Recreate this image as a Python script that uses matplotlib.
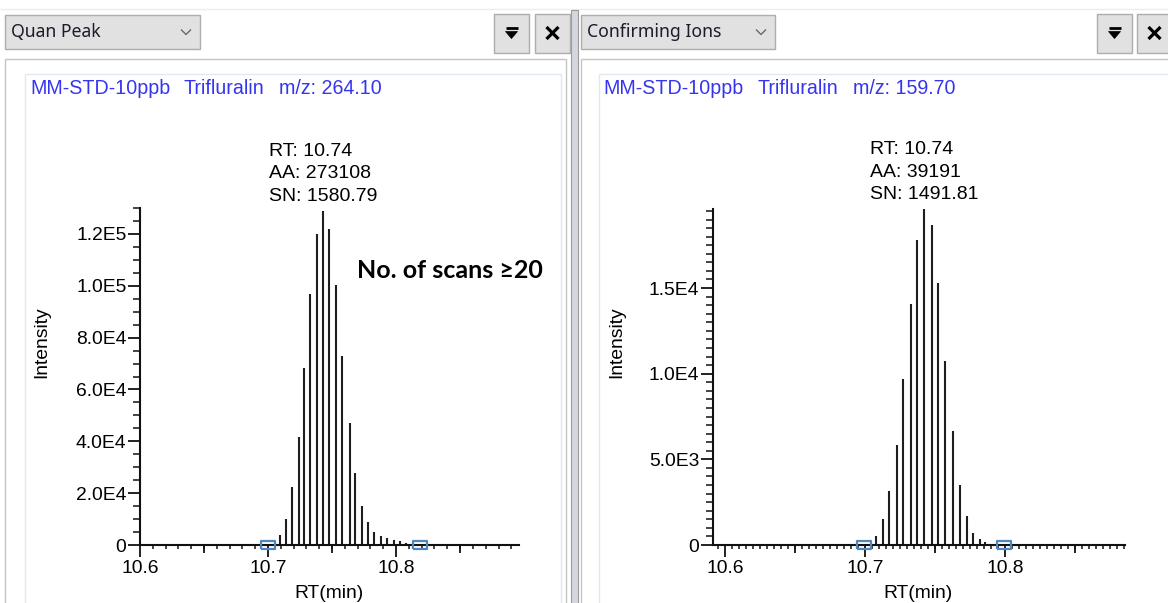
import matplotlib
matplotlib.use("Agg")
import matplotlib.pyplot as plt
from matplotlib.patches import Rectangle, Polygon
from matplotlib.lines import Line2D
from matplotlib.ticker import MultipleLocator

# ---------------- data ----------------
panel_titles = ["Quan Peak", "Confirming Ions"]
sample_name = "MM-STD-10ppb"
compound = "Trifluralin"
mz_labels = ["m/z: 264.10", "m/z: 159.70"]
stats_labels = ["RT: 10.74\nAA: 273108\nSN: 1580.79",
                "RT: 10.74\nAA: 39191\nSN: 1491.81"]
note_text = "No. of scans \u226520"

quan_rt = [10.709, 10.714, 10.719, 10.724, 10.728, 10.733, 10.738, 10.743,
           10.748, 10.753, 10.758, 10.764, 10.768, 10.773, 10.778, 10.783,
           10.788, 10.793, 10.798, 10.803, 10.808]
quan_int = [3700, 10000, 22200, 41800, 68400, 96800, 120000, 129000,
            121800, 100300, 73000, 46900, 27600, 15000, 8700, 5000,
            3400, 2700, 2000, 1600, 900]
quan_bounds = [10.700, 10.819]
quan_yticks = [0, 20000, 40000, 60000, 80000, 100000, 120000]
quan_yticklabels = ["0", "2.0E4", "4.0E4", "6.0E4", "8.0E4", "1.0E5", "1.2E5"]

conf_rt = [10.708, 10.713, 10.717, 10.723, 10.727, 10.733, 10.737, 10.742,
           10.748, 10.752, 10.757, 10.763, 10.768, 10.773, 10.777, 10.782,
           10.786]
conf_int = [500, 1500, 3160, 5850, 9710, 14040, 17800, 19600,
            18680, 15300, 10760, 6630, 3510, 1700, 720, 330, 180]
conf_bounds = [10.699, 10.799]
conf_yticks = [0, 5000, 10000, 15000]
conf_yticklabels = ["0", "5.0E3", "1.0E4", "1.5E4"]

xticks = [10.6, 10.7, 10.8]
xticklabels = ["10.6", "10.7", "10.8"]

# ---------------- figure ----------------
W, H = 1168, 603
fig = plt.figure(figsize=(W / 100, H / 100), dpi=100)
fig.patch.set_facecolor("white")

ARIAL = "Liberation Sans"
UI = "Noto Sans"
BLUE = "#3535f0"
SQ = "#4f86c0"


def rect(x0, y0, x1, y1, fc, ec, lw=1.0, z=0):
    fig.add_artist(Rectangle((x0 / W, 1 - y1 / H), (x1 - x0) / W, (y1 - y0) / H,
                             transform=fig.transFigure, facecolor=fc,
                             edgecolor=ec, linewidth=lw, zorder=z))


def line(xs, ys, color, lw, z=2):
    fig.add_artist(Line2D([x / W for x in xs], [1 - y / H for y in ys],
                          transform=fig.transFigure, color=color, lw=lw,
                          zorder=z, solid_capstyle="butt"))


def ftext(x, y, s, **kw):
    fig.text(x / W, 1 - y / H, s, **kw)


# top faint line
line([0, W], [9, 9], "#e6eef8", 1.0, z=0)

# splitter
rect(571, 10, 578, 610, "#d4d8de", "#9a9a9a", lw=0.8, z=1)

panels = [
    dict(x0=5, x1=566, drop=(5, 200), btn1=(494, 529), btn2=(535, 570), inner=25),
    dict(x0=581, x1=1175, drop=(581, 775), btn1=(1097, 1132), btn2=(1137, 1172), inner=599),
]

for i, p in enumerate(panels):
    rect(p["x0"], 59, p["x1"], 612, "white", "#c4c4c4", lw=1.0, z=1)
    rect(p["inner"], 74, p["x1"] - 5, 612, "white", "#dfe8f3", lw=1.0, z=1)
    d0, d1 = p["drop"]
    rect(d0, 15, d1, 49, "#e1e1e1", "#adadad", lw=1.0, z=2)
    ftext(d0 + 6, 32, panel_titles[i], family=UI, fontsize=12.7,
          color="#1c1c2a", va="center", ha="left", zorder=3)
    cx = d1 - 14
    line([cx - 5, cx, cx + 5], [29.5, 34.5, 29.5], "#6a6a6a", 1.0, z=3)
    b0, b1 = p["btn1"]
    rect(b0, 14, b1, 53, "#e1e1e1", "#adadad", lw=1.0, z=2)
    mx = (b0 + b1) / 2
    line([mx - 6, mx + 6], [28, 28], "black", 2.0, z=3)
    fig.add_artist(Polygon([((mx - 6) / W, 1 - 31.5 / H), ((mx + 6) / W, 1 - 31.5 / H),
                            (mx / W, 1 - 38.5 / H)], closed=True,
                           transform=fig.transFigure, facecolor="black",
                           edgecolor="black", lw=0.5, zorder=3))
    c0, c1 = p["btn2"]
    rect(c0, 14, c1, 53, "#e1e1e1", "#adadad", lw=1.0, z=2)
    mx = (c0 + c1) / 2
    line([mx - 6, mx + 6], [27, 39], "black", 2.3, z=3)
    line([mx - 6, mx + 6], [39, 27], "black", 2.3, z=3)

# ---------------- plot panels ----------------
specs = [
    dict(rt=quan_rt, inten=quan_int, bounds=quan_bounds, yt=quan_yticks,
         ytl=quan_yticklabels, ymin=5000, xminor=0.01,
         box=(140, 519, 208, 545), xlim=(10.6, 10.896), ylim=(0, 130000),
         title_x=(30, 184, 279), ylab_x=42, xlab_x=328.5),
    dict(rt=conf_rt, inten=conf_int, bounds=conf_bounds, yt=conf_yticks,
         ytl=conf_yticklabels, ymin=500, xminor=0.005,
         box=(713, 1125, 209, 545), xlim=(10.5914, 10.8857), ylim=(0, 19614),
         title_x=(603, 758, 853), ylab_x=617, xlab_x=918),
]

for i, s in enumerate(specs):
    x0, x1, y0, y1 = s["box"]
    ax = fig.add_axes([x0 / W, 1 - y1 / H, (x1 - x0) / W, (y1 - y0) / H])
    ax.set_zorder(5)
    ax.patch.set_alpha(0)
    ax.vlines(s["rt"], 0, s["inten"], colors="#1e1e1e", lw=1.5)
    ax.plot(s["bounds"], [0, 0], ls="none",
            marker=[(-1, -0.5), (1, -0.5), (1, 0.5), (-1, 0.5), (-1, -0.5)],
            ms=10.5, mfc="none", mec=SQ, mew=1.6, clip_on=False, zorder=6)
    ax.set_xlim(*s["xlim"])
    ax.set_ylim(*s["ylim"])
    for sp in ("top", "right"):
        ax.spines[sp].set_visible(False)
    for sp in ("left", "bottom"):
        ax.spines[sp].set_linewidth(1.5)
        ax.spines[sp].set_color("#111111")

    ax.set_xticks(xticks)
    ax.set_xticklabels(xticklabels)
    ax.xaxis.set_minor_locator(MultipleLocator(s["xminor"]))
    ax.set_yticks(s["yt"])
    ax.set_yticklabels(s["ytl"])
    ax.yaxis.set_minor_locator(MultipleLocator(s["ymin"]))
    ax.tick_params(axis="x", which="major", length=8.6, width=1.3, pad=2,
                   labelsize=13.9, direction="out", color="#111111")
    ax.tick_params(axis="x", which="minor", length=3.0, width=1.1,
                   direction="out", color="#111111")
    ax.tick_params(axis="y", which="major", length=8.6, width=1.3, pad=1.2,
                   labelsize=13.9, direction="out", color="#111111")
    ax.tick_params(axis="y", which="minor", length=5.0, width=1.1,
                   direction="out", color="#111111")
    for lab in ax.get_xticklabels() + ax.get_yticklabels():
        lab.set_fontfamily(ARIAL)

    sec = ax.secondary_xaxis("bottom")
    sec.set_xticks([10.65, 10.75, 10.85])
    sec.tick_params(length=5.8, width=1.3, labelbottom=False, color="#111111")
    sec.spines["bottom"].set_visible(False)

    k = s["inten"].index(max(s["inten"]))
    ax.annotate(stats_labels[i], xy=(s["rt"][k], s["inten"][k]),
                xytext=(0, 6), textcoords="offset pixels", ha="center",
                va="bottom", multialignment="left", fontsize=14.0,
                family=ARIAL, linespacing=1.42, annotation_clip=False)

    tx = s["title_x"]
    for xx, txt in zip(tx, [sample_name, compound, mz_labels[i]]):
        ftext(xx, 89, txt, family=ARIAL, fontsize=14.1, color=BLUE,
              va="center", ha="left")
    ftext(s["ylab_x"], 342, "Intensity", family=ARIAL, fontsize=13.9,
          rotation=90, va="center", ha="center")
    ftext(s["xlab_x"], 593, "RT(min)", family=ARIAL, fontsize=13.9,
          va="center", ha="center")

ftext(357, 270, note_text, family=["Lato", "DejaVu Sans"], fontsize=18,
      fontweight="bold", va="center", ha="left", color="black")

fig.savefig("out.png", dpi=100, facecolor="white")
